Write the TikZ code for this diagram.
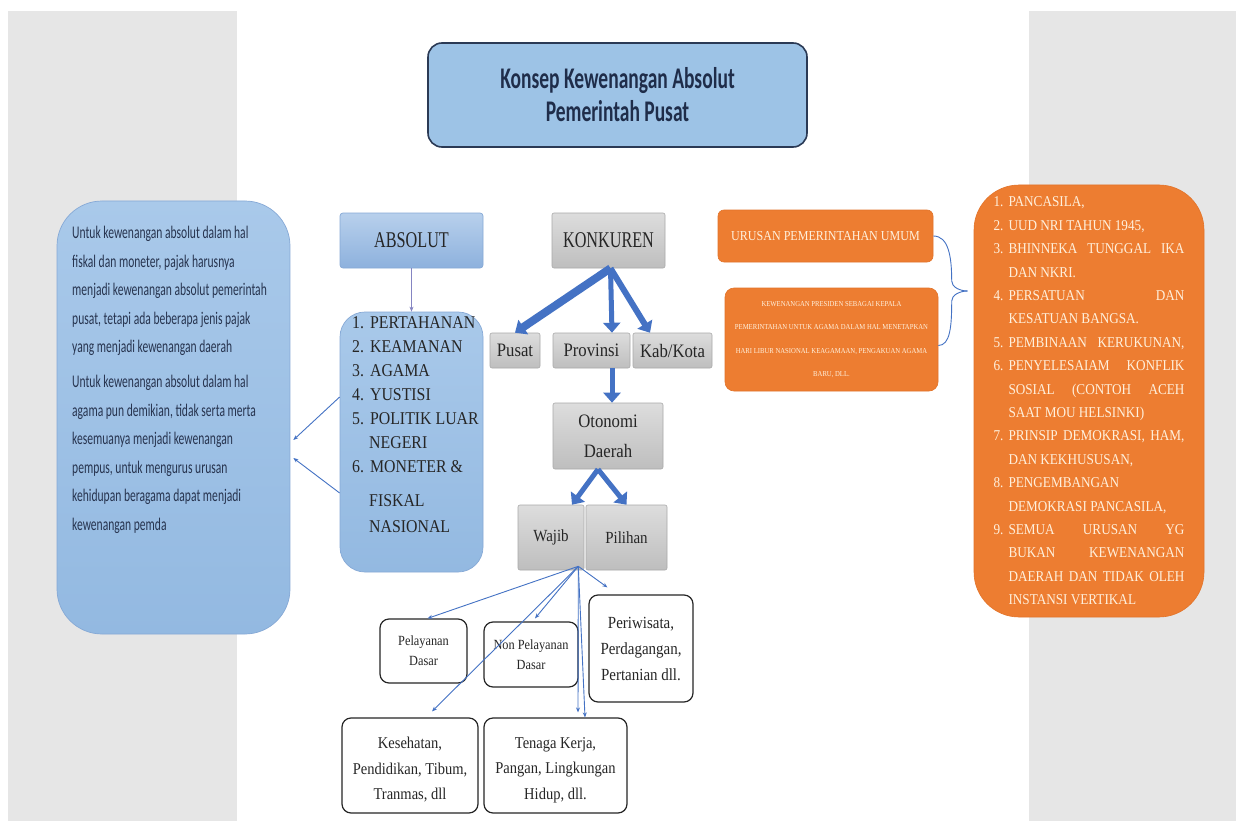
\documentclass[tikz,border=0pt]{standalone}
\usepackage{fontspec}
\setmainfont{Liberation Serif}
\newfontfamily\nserif[FakeStretch=0.88]{Liberation Serif}
\newfontfamily\tserif[FakeStretch=0.72]{Liberation Serif}
\newfontfamily\nsans[FakeStretch=0.65]{Carlito}
\usetikzlibrary{arrows.meta,calc}

\newcommand\fs[2]{\fontsize{#1}{#2}\selectfont}
% numbered rows of the orange list: justified or ragged
\newcommand\rowJ[2]{\makebox[15pt][l]{#1}\makebox[176pt][s]{#2}}
\newcommand\rowL[2]{\makebox[15pt][l]{#1}\makebox[176pt][l]{#2}}

\definecolor{pagegray}{HTML}{E6E6E6}
\definecolor{skyfill}{HTML}{9DC3E6}
\definecolor{skytop}{HTML}{A9C9EA}
\definecolor{skybot}{HTML}{93B9E1}
\definecolor{skyline}{HTML}{86A9D6}
\definecolor{abstop}{HTML}{B8D0EC}
\definecolor{absbot}{HTML}{8DB1DD}
\definecolor{graytop}{HTML}{DDDDDD}
\definecolor{graybot}{HTML}{BEBEBE}
\definecolor{grayline}{HTML}{A9A9A9}
\definecolor{orangefill}{HTML}{ED7D31}
\definecolor{orangeline}{HTML}{E2742A}
\definecolor{creamtext}{HTML}{FFF0DC}
\definecolor{arrowblue}{HTML}{4472C4}
\definecolor{navy}{HTML}{1F2D4A}
\definecolor{notetext}{HTML}{27344F}
\definecolor{titleline}{HTML}{2B3A55}
\definecolor{violetline}{HTML}{8585C2}

\begin{document}
\begin{tikzpicture}[x=1pt,y=-1pt,
  titlebox/.style={draw=titleline,line width=1.6pt,fill=skyfill,rounded corners=14pt,
    align=center,text=navy,font=\nsans\bfseries\fs{30}{33}},
  skybox/.style={draw=skyline,line width=0.7pt,top color=skytop,bottom color=skybot},
  absbox/.style={draw=skyline,line width=0.7pt,top color=abstop,bottom color=absbot,
    rounded corners=3pt,font=\tserif\fs{22.5}{26},text=black!85},
  graybox/.style={draw=grayline,line width=0.6pt,top color=graytop,bottom color=graybot,
    rounded corners=2pt,align=center,text=black!85},
  orangebox/.style={draw=orangeline,line width=0.6pt,fill=orangefill,text=creamtext},
  whitebox/.style={draw=black!85,line width=1.2pt,fill=white,rounded corners=9pt,
    align=center,text=black!85},
  fatarrow/.style={draw=arrowblue,line width=6pt,-{Triangle[length=10pt,width=17pt]}},
  slimarrow/.style={draw=arrowblue,line width=0.9pt,-{Stealth[length=5pt,width=4pt]}},
  bracket/.style={draw=arrowblue,line width=0.9pt}
]
\useasboundingbox (0,0) rectangle (1244,821);

% page background
\fill[pagegray] (8,11) rectangle (1236,821);
\fill[white] (237,11) rectangle (1029,821);

% title
\node[titlebox,minimum width=379pt,minimum height=104pt] (title) at (617.5,95)
  {Konsep Kewenangan Absolut\\Pemerintah Pusat};

% left note
\node[skybox,rounded corners=45pt,minimum width=233pt,minimum height=433pt] (lbox) at (173.5,417.5) {};
\node[anchor=north west,inner sep=0pt,align=left,text=notetext,font=\nsans\fs{17.8}{28.5}] (ltxt) at (72,226)
  {Untuk kewenangan absolut dalam hal\\
   fiskal dan moneter, pajak harusnya\\
   menjadi kewenangan absolut pemerintah\\
   pusat, tetapi ada beberapa jenis pajak\\
   yang menjadi kewenangan daerah\\[6.5pt]
   Untuk kewenangan absolut dalam hal\\
   agama pun demikian, tidak serta merta\\
   kesemuanya menjadi kewenangan\\
   pempus, untuk mengurus urusan\\
   kehidupan beragama dapat menjadi\\
   kewenangan pemda};

% absolut branch
\node[absbox,minimum width=143pt,minimum height=55pt] (abs) at (411.5,240.5) {ABSOLUT};
\node[skybox,rounded corners=25pt,minimum width=143pt,minimum height=260pt] (lst) at (411.5,442) {};
\node[anchor=north west,inner sep=0pt,align=left,text=black!85,font=\nserif\fs{18}{24}] (lsttxt) at (352,316)
  {1.\hspace{6pt}PERTAHANAN\\
   2.\hspace{6pt}KEAMANAN\\
   3.\hspace{6pt}AGAMA\\
   4.\hspace{6pt}YUSTISI\\
   5.\hspace{6pt}POLITIK LUAR\\
   \hspace{17pt}NEGERI\\
   6.\hspace{6pt}MONETER \&\\[10pt]
   \hspace{17pt}FISKAL\\[2pt]
   \hspace{17pt}NASIONAL};

\draw[draw=violetline,line width=0.9pt,-{Stealth[length=5pt,width=4pt]}] (abs.south) -- (lst.north);
\draw[slimarrow] ($(lst.west)+(0,-45)$) -- ($(lbox.east)+(3,22.5)$);
\draw[slimarrow] ($(lst.west)+(0,51)$) -- ($(lbox.east)+(3,40.5)$);

% konkuren branch
\node[graybox,minimum width=113pt,minimum height=55pt,font=\tserif\fs{22.5}{26}] (konk) at (608.5,240.5) {KONKUREN};
\node[graybox,minimum width=50pt,minimum height=35pt,font=\nserif\fs{19}{22}] (pusat) at (515,350.5) {Pusat};
\node[graybox,minimum width=77pt,minimum height=35pt,font=\nserif\fs{19}{22}] (prov) at (591.5,350.5) {Provinsi};
\node[graybox,minimum width=79pt,minimum height=35pt,font=\nserif\fs{19}{22}] (kab) at (672.5,350.5) {Kab/Kota};
\node[graybox,minimum width=110pt,minimum height=66pt,font=\nserif\fs{19}{30}] (oto) at (608,436) {Otonomi\\Daerah};
\node[graybox,minimum width=66pt,minimum height=65pt,font=\nserif\fs{17}{20}] (wajib) at (551,537.5) {Wajib};
\node[graybox,minimum width=81pt,minimum height=65pt,font=\nserif\fs{17}{20}] (pilihan) at (626.5,537.5) {Pilihan};

\draw[fatarrow,line width=8pt] ($(konk.south)+(2,0)$) -- (pusat.north);
\draw[fatarrow,line width=5pt] ($(konk.south)+(2,0)$) -- ($(prov.north)+(20.5,0)$);
\draw[fatarrow] ($(konk.south)+(2,0)$) -- ($(kab.north)+(-22.5,0)$);
\draw[fatarrow,line width=5pt] ($(prov.south)+(20.5,0)$) -- ($(oto.north)+(4,0)$);
\draw[fatarrow,line width=5pt] ($(oto.south)+(-10,0)$) -- ($(wajib.north)+(21,0)$);
\draw[fatarrow,line width=5pt] ($(oto.south)+(-10,0)$) -- (pilihan.north);

% leaves
\node[whitebox,minimum width=87pt,minimum height=64pt,font=\nserif\fs{14}{20}] (pel) at (423.5,651) {Pelayanan\\Dasar};
\node[whitebox,minimum width=94pt,minimum height=65pt,font=\nserif\fs{14}{20}] (nonpel) at (531,654.5) {Non Pelayanan\\Dasar};
\node[whitebox,minimum width=104pt,minimum height=107pt,font=\nserif\fs{17}{26}] (peri) at (641,648.5) {Periwisata,\\Perdagangan,\\Pertanian dll.};
\node[whitebox,minimum width=136pt,minimum height=95pt,font=\nserif\fs{16.5}{25.5}] (kes) at (410,765.5) {\rule{0pt}{20pt}Kesehatan,\\Pendidikan, Tibum,\\Tranmas, dll};
\node[whitebox,minimum width=143pt,minimum height=95pt,font=\nserif\fs{16.5}{25.5}] (tenaga) at (555.5,765.5) {\rule{0pt}{20pt}Tenaga Kerja,\\Pangan, Lingkungan\\Hidup, dll.};

\coordinate (fan) at ($(wajib.south east)+(-6,-4)$);
\draw[slimarrow] (fan) -- ($(pel.north)+(4,0)$);
\draw[slimarrow] (fan) -- ($(nonpel.north)+(4,-3)$);
\draw[slimarrow] (fan) -- ($(kes.north)+(22,-6)$);
\draw[slimarrow] (fan) -- ($(tenaga.north)+(22.5,-5)$);
\draw[slimarrow] (fan) -- ($(tenaga.north)+(29.5,0)$);
\draw[slimarrow] (fan) -- ($(peri.north west)+(19,-7)$);

% general government affairs
\node[orangebox,rounded corners=6pt,minimum width=215pt,minimum height=52pt,font=\nserif\fs{13.7}{16}] (urusan) at (825.5,236)
  {URUSAN PEMERINTAHAN UMUM};
\node[orangebox,rounded corners=9pt,minimum width=213pt,minimum height=103pt,align=center,font=\nserif\fs{7.6}{23.3}] (kepres) at (831.5,339.5)
  {KEWENANGAN PRESIDEN SEBAGAI KEPALA\\
   PEMERINTAHAN UNTUK AGAMA DALAM HAL MENETAPKAN\\
   HARI LIBUR NASIONAL KEAGAMAAN, PENGAKUAN AGAMA\\
   BARU, DLL.};

\node[orangebox,rounded corners=45pt,minimum width=230pt,minimum height=432pt,align=left,font=\nserif\fs{15}{23.4}] (ulist) at (1089,401)
  {\rowL{1.}{PANCASILA,}\\
   \rowL{2.}{UUD NRI TAHUN 1945,}\\
   \rowJ{3.}{BHINNEKA TUNGGAL IKA}\\
   \rowL{}{DAN NKRI.}\\
   \rowJ{4.}{PERSATUAN DAN}\\
   \rowL{}{KESATUAN BANGSA.}\\
   \rowJ{5.}{PEMBINAAN KERUKUNAN,}\\
   \rowJ{6.}{PENYELESAIAM KONFLIK}\\
   \rowJ{}{SOSIAL (CONTOH ACEH}\\
   \rowL{}{SAAT MOU HELSINKI)}\\
   \rowJ{7.}{PRINSIP DEMOKRASI, HAM,}\\
   \rowL{}{DAN KEKHUSUSAN,}\\
   \rowL{8.}{PENGEMBANGAN}\\
   \rowL{}{DEMOKRASI PANCASILA,}\\
   \rowJ{9.}{SEMUA URUSAN YG}\\
   \rowJ{}{BUKAN KEWENANGAN}\\
   \rowJ{}{DAERAH DAN TIDAK OLEH}\\
   \rowL{}{INSTANSI VERTIKAL}};

% brace joining both orange boxes to the list
\coordinate (bt) at ($(ulist.west)+(-6,-110)$);
\draw[bracket] (urusan.east) .. controls +(15,0) and +(0,-25) .. ($(bt)+(-16,-10)$)
  .. controls +(0,6) and +(-8,0) .. (bt);
\draw[bracket] (bt) .. controls +(-8,0) and +(0,-6) .. ($(bt)+(-16,10)$)
  .. controls +(0,25) and +(12,0) .. ($(kepres.east)+(0,6)$);
\end{tikzpicture}
\end{document}
